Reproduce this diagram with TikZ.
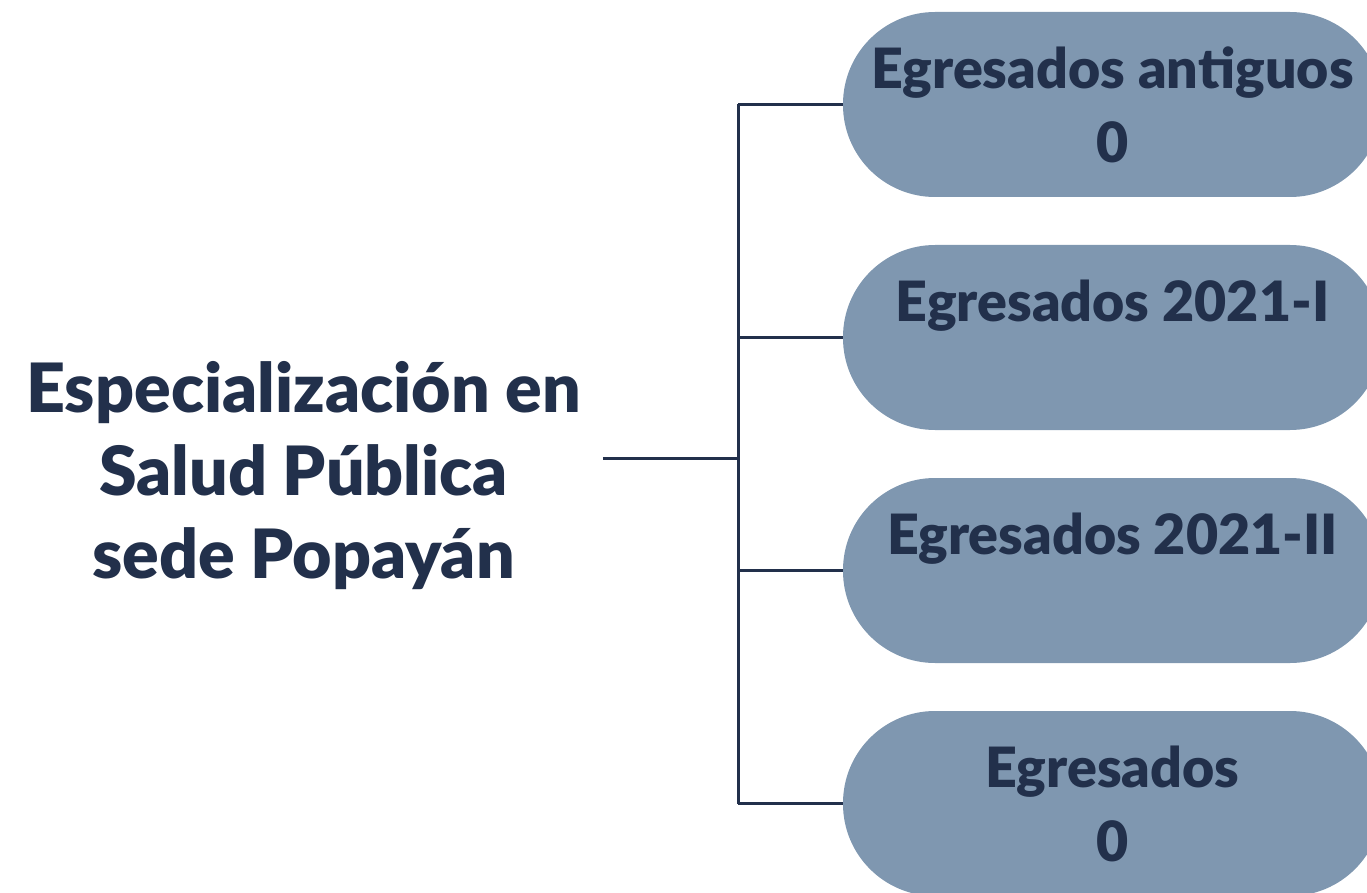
\documentclass[tikz,border=0pt]{standalone}
\usepackage{fontspec}
\setmainfont{Lato}[BoldFont={Lato Black}]
\usetikzlibrary{positioning}
\definecolor{navy}{HTML}{22304B}
\definecolor{boxblue}{HTML}{7F97B0}
\tikzset{
  egbox/.style={fill=boxblue, rounded corners=92pt, minimum width=539pt,
    minimum height=185pt, text=navy, align=center, inner sep=0pt,
    font=\bfseries\fontsize{55.5}{74}\selectfont},
  link/.style={draw=navy, line width=3pt},
}
\begin{document}
\begin{tikzpicture}[x=1pt, y=-1pt]
	\useasboundingbox (0,0) rectangle (1367,893);
	% boxes on the right
	\node[egbox] (old) at (1112.5,104.5) {Egresados antiguos\\0};
	\node[egbox] (s1) at (1112.5,337.5) {Egresados 2021-I\\\phantom{0}};
	\node[egbox] (s2) at (1112.5,570.5) {Egresados 2021-II\\\phantom{0}};
	\node[egbox] (all) at (1112.5,803.5) {Egresados\\0};
	% program name
	\node[text=navy, align=center, inner xsep=22pt, font=\bfseries\fontsize{68}{83}\selectfont] (title) at (303.5,476) {Especialización en\\Salud Pública\\sede Popayán};
	\coordinate (hub) at (738,458);
	\draw[link] (title.east |- hub) -- (hub);
	\draw[link] (hub |- old.west) -- (hub |- all.west);
	\foreach \n in {old,s1,s2,all}
		\draw[link] (hub |- \n.west) -- (\n.west);
\end{tikzpicture}
\end{document}
